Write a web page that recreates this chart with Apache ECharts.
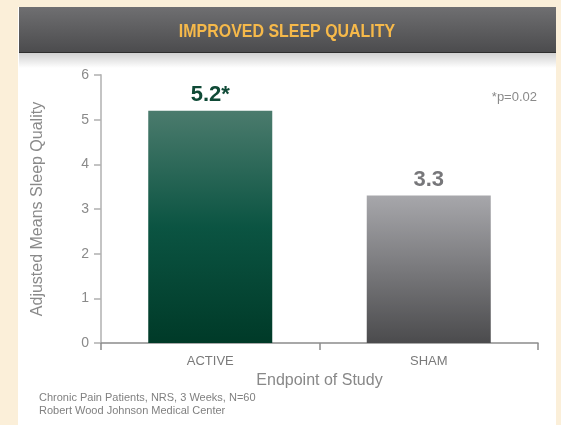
<!DOCTYPE html>
<html>
<head>
<meta charset="utf-8">
<title>Improved Sleep Quality</title>
<script src="https://cdn.jsdelivr.net/npm/echarts@6/dist/echarts.min.js"></script>
<style>
    html, body{
        margin: 0;
        padding: 0;
        background: #fbefd9;
    }
    #chart{
        width: 561px;
        height: 425px;
    }
</style>
</head>
<body>
<div id="chart"></div>
<script>
    // data
    var categories = ['ACTIVE', 'SHAM'];
    var values = [5.2, 3.3];
    var valueLabels = ['5.2*', '3.3'];
    var yTicks = [0, 1, 2, 3, 4, 5, 6];

    var font = '"Liberation Sans Narrow", "Liberation Sans", Arial, sans-serif';

    var myChart = echarts.init(document.getElementById('chart'));

    var option = {
        backgroundColor: '#fbefd9',
        textStyle: { fontFamily: font },
        animation: false,
        graphic: [
            // white panel
            { type: 'rect', z: -10, shape: { x: 18, y: 7, width: 538, height: 420 }, style: { fill: '#fff' } },
            // header bar
            { type: 'rect', z: -9, shape: { x: 19, y: 7, width: 537, height: 46 },
              style: { fill: new echarts.graphic.LinearGradient(0, 0, 0, 1, [
                  { offset: 0, color: '#6f6f71' }, { offset: 1, color: '#4b4b4d' }]) } },
            { type: 'rect', z: -9, shape: { x: 19, y: 52, width: 537, height: 1 }, style: { fill: '#2e2e2e' } },
            // shadow under header
            { type: 'rect', z: -9, shape: { x: 19, y: 53, width: 537, height: 15 },
              style: { fill: new echarts.graphic.LinearGradient(0, 0, 0, 1, [
                  { offset: 0, color: 'rgba(0,0,0,0.18)' }, { offset: 1, color: 'rgba(0,0,0,0)' }]) } },
            // title, squeezed to look condensed
            { type: 'text', x: 287, y: 32, scaleX: 0.84, style: {
                text: 'IMPROVED SLEEP QUALITY', fill: '#f6b94a', font: 'bold 19px ' + font,
                align: 'center', verticalAlign: 'middle',
                shadowColor: 'rgba(0,0,0,0.7)', shadowBlur: 3, shadowOffsetX: 1, shadowOffsetY: 1 } },
            { type: 'text', x: 537, y: 97, style: {
                text: '*p=0.02', fill: '#8a8a8a', font: '13px ' + font, align: 'right', verticalAlign: 'middle' } },
            { type: 'text', x: 39, y: 398, style: {
                text: 'Chronic Pain Patients, NRS, 3 Weeks, N=60', fill: '#808080', font: '11px ' + font, verticalAlign: 'middle' } },
            { type: 'text', x: 39, y: 411, style: {
                text: 'Robert Wood Johnson Medical Center', fill: '#808080', font: '11px ' + font, verticalAlign: 'middle' } }
        ],
        grid: { left: 101, right: 23, top: 75, bottom: 82 },
        xAxis: {
            type: 'category',
            data: categories,
            axisLine: { lineStyle: { color: '#8c8c8c', width: 1.5 } },
            axisTick: { show: true, length: 7, lineStyle: { color: '#8c8c8c', width: 1.5 } },
            axisLabel: { color: '#7a7a7a', fontSize: 13, margin: 12 },
            name: 'Endpoint of Study',
            nameLocation: 'middle',
            nameGap: 30,
            nameTextStyle: { color: '#888', fontSize: 16 }
        },
        yAxis: {
            type: 'value',
            min: yTicks[0],
            max: yTicks[yTicks.length - 1],
            interval: 1,
            axisLine: { show: true, lineStyle: { color: '#c4c4c4', width: 2 } },
            axisTick: { show: true, length: 7, lineStyle: { color: '#b0b0b0', width: 1.5 } },
            splitLine: { show: false },
            axisLabel: { color: '#8a8a8a', fontSize: 14, margin: 12 },
            name: 'Adjusted Means Sleep Quality',
            nameLocation: 'middle',
            nameGap: 55,
            nameTextStyle: { color: '#8a8a8a', fontSize: 16 }
        },
        series: [{
            type: 'bar',
            barWidth: 124,
            data: [
                { value: values[0],
                  itemStyle: { color: new echarts.graphic.LinearGradient(0, 0, 0, 1, [
                      { offset: 0, color: '#4b7b6d' }, { offset: 0.5, color: '#0b5442' }, { offset: 1, color: '#003a28' }]) },
                  label: { formatter: valueLabels[0], color: '#0f4a36' } },
                { value: values[1],
                  itemStyle: { color: new echarts.graphic.LinearGradient(0, 0, 0, 1, [
                      { offset: 0, color: '#a7a7ab' }, { offset: 1, color: '#4b4b4d' }]) },
                  label: { formatter: valueLabels[1], color: '#77777a' } }
            ],
            label: { show: true, position: 'top', distance: 5, fontSize: 22, fontWeight: 'bold', fontFamily: font }
        }]
    };
    myChart.setOption(option);
</script>
</body>
</html>
